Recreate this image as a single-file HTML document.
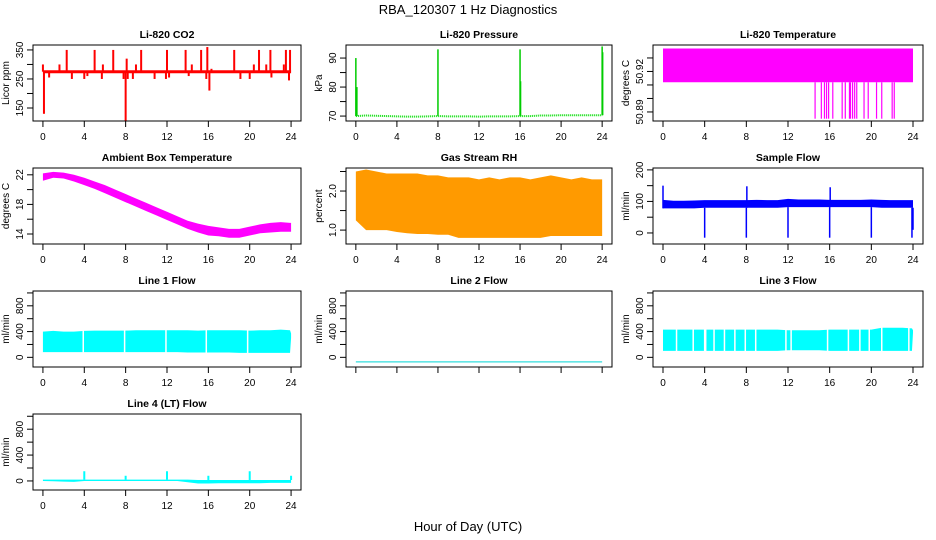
<!DOCTYPE html>
<html><head><meta charset="utf-8"><style>
body{margin:0;background:#fff}
svg{display:block;font-family:"Liberation Sans",Arial,sans-serif}
</style></head><body>
<svg id="c" width="936" height="540" viewBox="0 0 936 540">
<text x="468" y="14" text-anchor="middle" font-size="13">RBA_120307  1 Hz Diagnostics</text>
<text x="468" y="531" text-anchor="middle" font-size="13">Hour of Day (UTC)</text>
</svg>
<script>
// ---- data ----
const hours = [0,1,2,3,4,5,6,7,8,9,10,11,12,13,14,15,16,17,18,19,20,21,22,23,23.9,24];
const xTicks = [0,4,8,12,16,20,24];
const co2Base = [275,275,275,275,275,275,275,275,275,275,275,275,275,275,275,275,275,275,275,275,275,275,275,275,275,275];
const co2SpikeHours = [0,0.1,0.6,1.6,2.3,2.8,4.0,4.3,5.0,5.7,5.8,6.8,7.8,8.0,8.1,8.2,8.7,9.0,9.5,10.8,11.9,12.0,12.2,13.8,14.1,14.4,15.3,15.8,15.9,16.1,16.3,18.5,19.1,20.0,20.4,20.9,21.6,22.0,22.1,23.3,23.5,23.8,23.9];
const co2SpikeVals = [300,130,255,300,350,250,250,260,350,250,300,350,250,105,320,250,250,300,350,250,250,350,255,350,260,300,350,250,360,210,285,350,250,250,300,350,300,350,255,300,350,245,350];
const presBase = [70,70.2,70.1,70,69.9,69.8,69.8,69.9,70,69.9,69.9,69.9,69.8,69.9,69.9,69.9,70,70,70.2,70.2,70.3,70.3,70.3,70.3,70.3,70.3];
const presSpikeHours = [0,0.1,8,16,16.05,24,24.05];
const presSpikeVals = [90,80,93,93,82,94,92];
const liTempHi = [50.937,50.937,50.937,50.937,50.937,50.937,50.937,50.937,50.937,50.937,50.937,50.937,50.937,50.937,50.937,50.937,50.937,50.937,50.937,50.937,50.937,50.937,50.937,50.937,50.937,50.937];
const liTempLo = [50.912,50.912,50.912,50.912,50.912,50.912,50.912,50.912,50.912,50.912,50.912,50.912,50.912,50.912,50.912,50.912,50.912,50.912,50.912,50.912,50.912,50.912,50.912,50.912,50.912,50.912];
const liTempDipHours = [14.6,15.2,15.5,15.7,15.9,16.3,17.2,17.5,17.9,18.0,18.2,18.4,18.6,19.3,19.7,20.5,21.0,22.0,22.2];
const liTempDipVals = [50.885,50.885,50.885,50.885,50.885,50.885,50.885,50.885,50.885,50.885,50.885,50.885,50.885,50.885,50.885,50.885,50.885,50.885,50.885];
const ambHi = [22.2,22.4,22.3,22.0,21.6,21.1,20.6,20.0,19.4,18.8,18.2,17.6,17.0,16.4,15.8,15.4,15.1,14.9,14.7,14.7,15.0,15.3,15.5,15.6,15.5,15.5];
const ambLo = [21.2,21.6,21.5,21.1,20.6,20.1,19.5,18.9,18.3,17.7,17.1,16.5,15.9,15.3,14.7,14.2,13.8,13.7,13.5,13.5,13.8,14.1,14.2,14.3,14.3,14.3];
const rhHi = [2.5,2.55,2.5,2.45,2.45,2.45,2.45,2.4,2.4,2.35,2.35,2.35,2.3,2.35,2.3,2.35,2.35,2.3,2.35,2.4,2.35,2.3,2.35,2.3,2.3,2.3];
const rhLo = [1.25,1.0,1.0,1.0,0.95,0.92,0.9,0.9,0.88,0.88,0.8,0.8,0.8,0.8,0.8,0.8,0.8,0.8,0.8,0.85,0.85,0.85,0.85,0.85,0.85,0.85];
const sampHi = [105,102,102,103,104,104,104,104,104,105,104,104,108,106,106,106,105,105,105,105,106,105,104,104,104,104];
const sampLo = [78,78,78,78,80,80,80,80,80,80,80,80,82,82,82,82,82,82,82,82,82,80,80,80,80,80];
const sampSpikeHours = [0,4,8,8.05,12,16,16.05,20,23.9,24];
const sampSpikeVals = [150,-15,-15,148,-15,-15,145,-15,-15,10];
const l1Hi = [400,410,400,400,410,415,415,415,415,420,420,420,420,420,420,415,420,420,420,420,415,420,420,430,420,370];
const l1Lo = [80,80,80,80,80,80,80,80,80,80,80,80,80,80,75,75,75,75,75,70,70,70,70,70,70,300];
const l1GapHours = [3.9,7.9,11.9,15.8,19.8];
const l2Vals = [-70,-70,-70,-70,-70,-70,-70,-70,-70,-70,-70,-70,-70,-70,-70,-70,-70,-70,-70,-70,-70,-70,-70,-70,-70,-70];
const l3Hi = [430,430,430,430,430,430,430,430,430,430,430,430,420,420,420,420,430,430,430,430,430,460,460,460,450,420];
const l3Lo = [100,100,100,100,100,100,100,100,100,100,100,100,110,110,110,110,100,100,100,100,100,100,100,100,100,380];
const l3GapHours = [1.3,2.9,4.0,4.1,4.9,5.9,6.9,7.9,8.9,11.8,12.3,15.8,17.8,18.9,19.8,21.0,23.6];
const l4Hi = [20,20,20,20,20,20,20,20,20,20,20,20,20,20,20,15,15,15,15,15,15,15,15,15,15,15];
const l4Lo = [0,-5,-10,-15,0,0,0,0,0,0,0,0,0,0,-20,-40,-40,-35,-35,-35,-35,-35,-30,-30,-30,-30];
const l4SpikeHours = [4,8,12,16,20,24];
const l4SpikeVals = [150,80,150,80,150,80];

// ---- layout ----
const NS='http://www.w3.org/2000/svg';
const svg=document.getElementById('c');
const colX=[[33,301],[346,612],[653,923]];
const rowY=[45,168,291,414];
const BH=76;
function mk(tag,attrs,parent){const e=document.createElementNS(NS,tag);for(const k in attrs)e.setAttribute(k,attrs[k]);(parent||svg).appendChild(e);return e;}

function panel(col,row,title,ylab,ydom,yticks,ylabels,name){
  const [x0,x1]=colX[col]; const y0=rowY[row], y1=y0+BH;
  const g=mk('g',{});
  
  
  const sx=h=>x0+(h+0.96)/25.92*(x1-x0);
  const sy=v=>y1-(v-ydom[0])/(ydom[1]-ydom[0])*BH;
  const marks=mk('g',{},g);
  
  
  const box=mk('rect',{x:x0,y:y0,width:x1-x0,height:BH,fill:'none',stroke:'#000','stroke-width':1},g);
  
  
  const t=mk('text',{x:(x0+x1)/2,y:y0-7,'text-anchor':'middle','font-size':10.5,'font-weight':'bold'},g);
  t.textContent=title;
  
  
  const xa=mk('g',{},g);
  
  
  xTicks.forEach(h=>{mk('line',{x1:sx(h),x2:sx(h),y1:y1,y2:y1+6,stroke:'#000'},xa);});
  if(!(row===2&&col===1)){
    xTicks.forEach(h=>{const l=mk('text',{x:sx(h),y:y1+19,'text-anchor':'middle','font-size':10},xa);l.textContent=h;});
  }
  const ya=mk('g',{},g);
  
  
  yticks.forEach(v=>mk('line',{x1:x0,x2:x0-6,y1:sy(v),y2:sy(v),stroke:'#000'},ya));
  ylabels.forEach(v=>{const xx=x0-10,yy=sy(v);const l=mk('text',{x:xx,y:yy,'text-anchor':'middle','font-size':10,transform:`rotate(-90 ${xx} ${yy})`},ya);l.textContent=v;});
  const yl=mk('text',{x:x0-24,y:(y0+y1)/2,'text-anchor':'middle','font-size':10,transform:`rotate(-90 ${x0-24} ${(y0+y1)/2})`},g);
  yl.textContent=ylab;
  
  
  return {sx,sy,g:marks};
}
function band(p,hi,lo,fill){
  let d='';hours.forEach((h,i)=>{d+=(i?'L':'M')+p.sx(h)+' '+p.sy(hi[i]);});
  for(let i=hours.length-1;i>=0;i--)d+='L'+p.sx(hours[i])+' '+p.sy(lo[i]);
  const e=mk('path',{d:d+'Z',fill:fill},p.g);
  
  
}
function line(p,vals,color,w,dash){
  const d=hours.map((h,i)=>(i?'L':'M')+p.sx(h)+' '+p.sy(vals[i])).join('');
  const e=mk('path',{d,fill:'none',stroke:color,'stroke-width':w,'stroke-dasharray':dash||'none'},p.g);
  
  
}
function baseAt(base,h){let i=0;while(i<hours.length-2&&hours[i+1]<h)i++;const f=(h-hours[i])/(hours[i+1]-hours[i]);return base[i]*(1-f)+base[i+1]*f;}
function spikes(p,hs,vs,base,color,w){
  hs.forEach((h,i)=>{const e=mk('line',{x1:p.sx(h),x2:p.sx(h),y1:p.sy(baseAt(base,h)),y2:p.sy(vs[i]),stroke:color,'stroke-width':w},p.g);
    
    });
}
function gaps(p,hs,lo,hi){
  hs.forEach(h=>{const e=mk('line',{x1:p.sx(h),x2:p.sx(h),y1:p.sy(baseAt(hi,h))-1,y2:p.sy(baseAt(lo,h))+1,stroke:'#fff','stroke-width':1.5},p.g);
    
    });
}

let p=panel(0,0,'Li-820 CO2','Licor ppm',[105.2,367],[150,200,250,300,350],[150,250,350],'co2');
line(p,co2Base,'#ff0000',3);
spikes(p,co2SpikeHours,co2SpikeVals,co2Base,'#ff0000',2);
p=panel(1,0,'Li-820 Pressure','kPa',[68.3,94.5],[70,75,80,85,90],[70,80,90],'pressure');
spikes(p,presSpikeHours,presSpikeVals,presBase,'#00cc00',1.5);
line(p,presBase,'#00dd00',2,'1 1');
p=panel(2,0,'Li-820 Temperature','degrees C',[50.8833,50.9396],[50.89,50.90,50.91,50.92,50.93],[50.89,50.92],'li820-temperature');
band(p,liTempHi,liTempLo,'#ff00ff');
spikes(p,liTempDipHours,liTempDipVals,liTempLo,'#ff00ff',1.2);
p=panel(0,1,'Ambient Box Temperature','degrees C',[12.65,22.92],[14,16,18,20,22],[14,18,22],'ambient-temperature');
band(p,ambHi,ambLo,'#ff00ff');
p=panel(1,1,'Gas Stream RH','percent',[0.644,2.59],[1.0,1.5,2.0,2.5],['1.0','2.0'],'gas-stream-rh');
band(p,rhHi,rhLo,'#ff9a00');
p=panel(2,1,'Sample Flow','ml/min',[-35,206],[0,50,100,150,200],[0,100,200],'sample-flow');
band(p,sampHi,sampLo,'#0000ff');
spikes(p,sampSpikeHours,sampSpikeVals,sampLo,'#0000ff',1.5);
p=panel(0,2,'Line 1 Flow','ml/min',[-150,1030],[0,200,400,600,800,1000],[0,400,800],'line1-flow');
band(p,l1Hi,l1Lo,'#00ffff');
gaps(p,l1GapHours,l1Lo,l1Hi);
p=panel(1,2,'Line 2 Flow','ml/min',[-150,1030],[0,200,400,600,800,1000],[0,400,800],'line2-flow');
line(p,l2Vals,'#33dddd',1.2);
p=panel(2,2,'Line 3 Flow','ml/min',[-150,1030],[0,200,400,600,800,1000],[0,400,800],'line3-flow');
band(p,l3Hi,l3Lo,'#00ffff');
gaps(p,l3GapHours,l3Lo,l3Hi);
p=panel(0,3,'Line 4 (LT) Flow','ml/min',[-140,1035],[0,200,400,600,800,1000],[0,400,800],'line4-flow');
band(p,l4Hi,l4Lo,'#00ffff');
spikes(p,l4SpikeHours,l4SpikeVals,l4Hi,'#00ffff',2);
</script>
</body></html>
